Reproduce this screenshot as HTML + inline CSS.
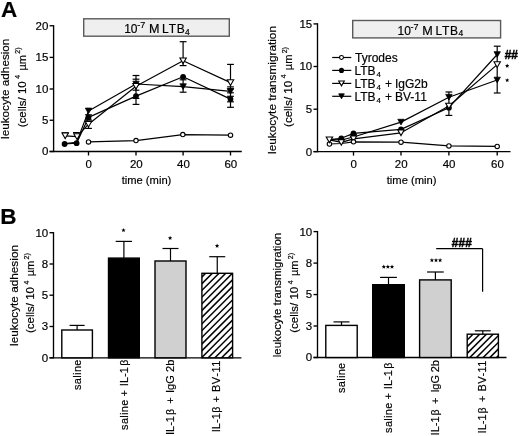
<!DOCTYPE html><html><head><meta charset="utf-8"><style>html,body{margin:0;padding:0;background:#fff;width:520px;height:436px;overflow:hidden}svg{display:block;filter:grayscale(1)}text{font-family:"Liberation Sans",sans-serif;fill:#000;stroke:#000;stroke-width:0.18px}</style></head><body>
<svg width="520" height="436" viewBox="0 0 520 436">
<rect width="520" height="436" fill="#fff"/>
<text x="0.9" y="16.9" font-size="22.5" font-weight="bold">A</text>
<text x="0.2" y="224.4" font-size="22.5" font-weight="bold">B</text>
<line x1="53.6" y1="25.15" x2="53.6" y2="152.1" stroke="#000" stroke-width="1.35"/>
<line x1="49.6" y1="25.75" x2="53.6" y2="25.75" stroke="#000" stroke-width="1.35"/>
<text x="48.3" y="29.65" font-size="11.5" text-anchor="end">20</text>
<line x1="49.6" y1="57.4" x2="53.6" y2="57.4" stroke="#000" stroke-width="1.35"/>
<text x="48.3" y="61.3" font-size="11.5" text-anchor="end">15</text>
<line x1="49.6" y1="89" x2="53.6" y2="89" stroke="#000" stroke-width="1.35"/>
<text x="48.3" y="92.9" font-size="11.5" text-anchor="end">10</text>
<line x1="49.6" y1="120.25" x2="53.6" y2="120.25" stroke="#000" stroke-width="1.35"/>
<text x="48.3" y="124.15" font-size="11.5" text-anchor="end">5</text>
<line x1="49.6" y1="151.5" x2="53.6" y2="151.5" stroke="#000" stroke-width="1.35"/>
<text x="48.3" y="155.4" font-size="11.5" text-anchor="end">0</text>
<line x1="49.6" y1="151.5" x2="241.8" y2="151.5" stroke="#000" stroke-width="1.35"/>
<line x1="88.5" y1="151.5" x2="88.5" y2="155.5" stroke="#000" stroke-width="1.35"/>
<text x="88.8" y="167.6" font-size="11.5" text-anchor="middle">0</text>
<line x1="136" y1="151.5" x2="136" y2="155.5" stroke="#000" stroke-width="1.35"/>
<text x="136.3" y="167.6" font-size="11.5" text-anchor="middle">20</text>
<line x1="183.1" y1="151.5" x2="183.1" y2="155.5" stroke="#000" stroke-width="1.35"/>
<text x="183.4" y="167.6" font-size="11.5" text-anchor="middle">40</text>
<line x1="230.5" y1="151.5" x2="230.5" y2="155.5" stroke="#000" stroke-width="1.35"/>
<text x="230.8" y="167.6" font-size="11.5" text-anchor="middle">60</text>
<text x="146.5" y="183.6" font-size="11.2" text-anchor="middle">time (min)</text>
<g transform="translate(9,138.9) rotate(-90)"><text x="0" y="0" font-size="11" textLength="100.3" lengthAdjust="spacingAndGlyphs">leukocyte adhesion</text></g>
<g transform="translate(25.8,127.3) rotate(-90)"><text x="0" y="0" font-size="11" textLength="46" lengthAdjust="spacingAndGlyphs">(cells/ 10</text><text x="48.6" y="-5.7" font-size="7">4</text><text x="56.7" y="0" font-size="11">&#181;m</text><text x="73.6" y="-5.5" font-size="7">2)</text></g>
<rect x="83.7" y="18.8" width="145.6" height="17.4" fill="#efefef" stroke="#5a5a5a" stroke-width="1.4"/>
<text x="124.2" y="32.8" font-size="12">10</text>
<text x="137.3" y="28" font-size="9">-7</text>
<text x="149" y="32.8" font-size="12.6">M</text>
<text x="162.1" y="32.8" font-size="12" textLength="22.7" lengthAdjust="spacing">LTB</text>
<text x="185.1" y="34.7" font-size="8.5">4</text>
<line x1="61.9" y1="132.8" x2="68.7" y2="132.8" stroke="#000" stroke-width="1.2"/>
<line x1="73" y1="132.6" x2="79.8" y2="132.6" stroke="#000" stroke-width="1.2"/>
<line x1="88.5" y1="114.8" x2="88.5" y2="120" stroke="#000" stroke-width="1.2"/>
<line x1="85.1" y1="114.8" x2="91.9" y2="114.8" stroke="#000" stroke-width="1.2"/>
<line x1="85.1" y1="120" x2="91.9" y2="120" stroke="#000" stroke-width="1.2"/>
<line x1="88.5" y1="121.5" x2="88.5" y2="128.4" stroke="#000" stroke-width="1.2"/>
<line x1="85.1" y1="121.5" x2="91.9" y2="121.5" stroke="#000" stroke-width="1.2"/>
<line x1="85.1" y1="128.4" x2="91.9" y2="128.4" stroke="#000" stroke-width="1.2"/>
<line x1="136" y1="75.5" x2="136" y2="104.4" stroke="#000" stroke-width="1.2"/>
<line x1="132.6" y1="75.5" x2="139.4" y2="75.5" stroke="#000" stroke-width="1.2"/>
<line x1="132.6" y1="79.2" x2="139.4" y2="79.2" stroke="#000" stroke-width="1.2"/>
<line x1="132.6" y1="90.2" x2="139.4" y2="90.2" stroke="#000" stroke-width="1.2"/>
<line x1="132.6" y1="98.4" x2="139.4" y2="98.4" stroke="#000" stroke-width="1.2"/>
<line x1="132.6" y1="104.4" x2="139.4" y2="104.4" stroke="#000" stroke-width="1.2"/>
<line x1="183.1" y1="41.7" x2="183.1" y2="65.6" stroke="#000" stroke-width="1.2"/>
<line x1="179.7" y1="41.7" x2="186.5" y2="41.7" stroke="#000" stroke-width="1.2"/>
<line x1="179.7" y1="65.6" x2="186.5" y2="65.6" stroke="#000" stroke-width="1.2"/>
<line x1="183.1" y1="79.8" x2="183.1" y2="92.2" stroke="#000" stroke-width="1.2"/>
<line x1="179.7" y1="79.8" x2="186.5" y2="79.8" stroke="#000" stroke-width="1.2"/>
<line x1="179.7" y1="92.2" x2="186.5" y2="92.2" stroke="#000" stroke-width="1.2"/>
<line x1="230.5" y1="64.4" x2="230.5" y2="107.3" stroke="#000" stroke-width="1.2"/>
<line x1="227.1" y1="64.4" x2="233.9" y2="64.4" stroke="#000" stroke-width="1.2"/>
<line x1="227.1" y1="86.9" x2="233.9" y2="86.9" stroke="#000" stroke-width="1.2"/>
<line x1="227.1" y1="88.9" x2="233.9" y2="88.9" stroke="#000" stroke-width="1.2"/>
<line x1="227.1" y1="92.8" x2="233.9" y2="92.8" stroke="#000" stroke-width="1.2"/>
<line x1="227.1" y1="96.3" x2="233.9" y2="96.3" stroke="#000" stroke-width="1.2"/>
<line x1="227.1" y1="101.8" x2="233.9" y2="101.8" stroke="#000" stroke-width="1.2"/>
<line x1="227.1" y1="107.3" x2="233.9" y2="107.3" stroke="#000" stroke-width="1.2"/>
<polyline points="88.5,141.9 136,140.6 182.8,134.6 230.5,135.2" fill="none" stroke="#000" stroke-width="1.2" stroke-linejoin="round"/>
<polyline points="64.6,144 76.6,143.2 88.5,117.4 136,96.1 183.1,76.8 230.5,99.1" fill="none" stroke="#000" stroke-width="1.2" stroke-linejoin="round"/>
<polyline points="65.2,135.8 77,136.6 88.5,124.2 136,86.3 183.1,60.8 230.5,82.6" fill="none" stroke="#000" stroke-width="1.2" stroke-linejoin="round"/>
<polyline points="64.6,143.6 76.6,142.4 88.5,110.9 136,84 183.1,86.6 230.5,91.4" fill="none" stroke="#000" stroke-width="1.2" stroke-linejoin="round"/>
<polygon points="85.3,108.1 91.7,108.1 88.5,113.7" fill="#000" stroke="#000" stroke-width="0.8"/>
<polygon points="132.8,81.2 139.2,81.2 136,86.8" fill="#000" stroke="#000" stroke-width="0.8"/>
<polygon points="179.9,83.8 186.3,83.8 183.1,89.4" fill="#000" stroke="#000" stroke-width="0.8"/>
<polygon points="227.3,88.6 233.7,88.6 230.5,94.2" fill="#000" stroke="#000" stroke-width="0.8"/>
<circle cx="64.6" cy="144" r="2.9" fill="#000"/>
<circle cx="76.6" cy="143.2" r="2.9" fill="#000"/>
<circle cx="88.5" cy="117.4" r="2.9" fill="#000"/>
<circle cx="136" cy="96.1" r="2.9" fill="#000"/>
<circle cx="183.1" cy="76.8" r="2.9" fill="#000"/>
<circle cx="230.5" cy="99.1" r="2.9" fill="#000"/>
<polygon points="62,133 68.4,133 65.2,138.6" fill="#fff" stroke="#000" stroke-width="1.1"/>
<polygon points="73.8,133.8 80.2,133.8 77,139.4" fill="#fff" stroke="#000" stroke-width="1.1"/>
<polygon points="85.3,121.4 91.7,121.4 88.5,127" fill="#fff" stroke="#000" stroke-width="1.1"/>
<polygon points="132.8,83.5 139.2,83.5 136,89.1" fill="#fff" stroke="#000" stroke-width="1.1"/>
<polygon points="179.9,58 186.3,58 183.1,63.6" fill="#fff" stroke="#000" stroke-width="1.1"/>
<polygon points="227.3,79.8 233.7,79.8 230.5,85.4" fill="#fff" stroke="#000" stroke-width="1.1"/>
<circle cx="88.5" cy="141.9" r="2.2" fill="#fff" stroke="#000" stroke-width="1.1"/>
<circle cx="136" cy="140.6" r="2.2" fill="#fff" stroke="#000" stroke-width="1.1"/>
<circle cx="182.8" cy="134.6" r="2.2" fill="#fff" stroke="#000" stroke-width="1.1"/>
<circle cx="230.5" cy="135.2" r="2.2" fill="#fff" stroke="#000" stroke-width="1.1"/>
<line x1="317.5" y1="23.2" x2="317.5" y2="152.2" stroke="#000" stroke-width="1.35"/>
<line x1="313.5" y1="23.9" x2="317.5" y2="23.9" stroke="#000" stroke-width="1.35"/>
<text x="312.2" y="27.8" font-size="11.5" text-anchor="end">15</text>
<line x1="313.5" y1="66.5" x2="317.5" y2="66.5" stroke="#000" stroke-width="1.35"/>
<text x="312.2" y="70.4" font-size="11.5" text-anchor="end">10</text>
<line x1="313.5" y1="109.2" x2="317.5" y2="109.2" stroke="#000" stroke-width="1.35"/>
<text x="312.2" y="113.1" font-size="11.5" text-anchor="end">5</text>
<line x1="313.5" y1="151.6" x2="317.5" y2="151.6" stroke="#000" stroke-width="1.35"/>
<text x="312.2" y="155.5" font-size="11.5" text-anchor="end">0</text>
<line x1="313.5" y1="151.6" x2="510.5" y2="151.6" stroke="#000" stroke-width="1.35"/>
<line x1="353.5" y1="151.6" x2="353.5" y2="155.6" stroke="#000" stroke-width="1.35"/>
<text x="353.7" y="167.6" font-size="11.5" text-anchor="middle">0</text>
<line x1="401" y1="151.6" x2="401" y2="155.6" stroke="#000" stroke-width="1.35"/>
<text x="401.2" y="167.6" font-size="11.5" text-anchor="middle">20</text>
<line x1="448.9" y1="151.6" x2="448.9" y2="155.6" stroke="#000" stroke-width="1.35"/>
<text x="449.1" y="167.6" font-size="11.5" text-anchor="middle">40</text>
<line x1="497.2" y1="151.6" x2="497.2" y2="155.6" stroke="#000" stroke-width="1.35"/>
<text x="497.4" y="167.6" font-size="11.5" text-anchor="middle">60</text>
<text x="411.6" y="183.6" font-size="11.2" text-anchor="middle">time (min)</text>
<g transform="translate(276.2,153.9) rotate(-90)"><text x="0" y="0" font-size="11" textLength="127.9" lengthAdjust="spacingAndGlyphs">leukocyte transmigration</text></g>
<g transform="translate(292,126.9) rotate(-90)"><text x="0" y="0" font-size="11" textLength="46" lengthAdjust="spacingAndGlyphs">(cells/ 10</text><text x="48.6" y="-5.7" font-size="7">4</text><text x="56.7" y="0" font-size="11">&#181;m</text><text x="73.6" y="-5.5" font-size="7">2)</text></g>
<rect x="352.7" y="20.5" width="147.9" height="17.4" fill="#efefef" stroke="#5a5a5a" stroke-width="1.4"/>
<text x="397.5" y="34.5" font-size="12">10</text>
<text x="410.6" y="29.7" font-size="9">-7</text>
<text x="422.3" y="34.5" font-size="12.6">M</text>
<text x="435.4" y="34.5" font-size="12" textLength="22.7" lengthAdjust="spacing">LTB</text>
<text x="458.4" y="36.4" font-size="8.5">4</text>
<line x1="448.9" y1="92" x2="448.9" y2="115.4" stroke="#000" stroke-width="1.2"/>
<line x1="445.5" y1="92" x2="452.3" y2="92" stroke="#000" stroke-width="1.2"/>
<line x1="445.5" y1="115.4" x2="452.3" y2="115.4" stroke="#000" stroke-width="1.2"/>
<line x1="497.2" y1="46.2" x2="497.2" y2="93" stroke="#000" stroke-width="1.2"/>
<line x1="493.8" y1="46.2" x2="500.6" y2="46.2" stroke="#000" stroke-width="1.2"/>
<line x1="493.8" y1="93" x2="500.6" y2="93" stroke="#000" stroke-width="1.2"/>
<polyline points="329.4,144 341.3,143.5 353.5,141.8 401,142.2 448.9,145.9 497.2,146.4" fill="none" stroke="#000" stroke-width="1.2" stroke-linejoin="round"/>
<polyline points="329.4,139.5 341.3,138.3 353.5,133.4 401,129.4 448.9,107.7 497.2,54.5" fill="none" stroke="#000" stroke-width="1.2" stroke-linejoin="round"/>
<polyline points="329.4,139.8 341.3,142.4 353.5,138.8 401,132.8 448.9,106 497.2,64.6" fill="none" stroke="#000" stroke-width="1.2" stroke-linejoin="round"/>
<polyline points="329.4,139.3 341.3,140 353.5,137 401,122.1 448.9,97.2 497.2,80" fill="none" stroke="#000" stroke-width="1.2" stroke-linejoin="round"/>
<circle cx="329.4" cy="144" r="2.2" fill="#fff" stroke="#000" stroke-width="1.1"/>
<polygon points="350.3,134.2 356.7,134.2 353.5,139.8" fill="#000" stroke="#000" stroke-width="0.8"/>
<polygon points="397.8,119.3 404.2,119.3 401,124.9" fill="#000" stroke="#000" stroke-width="0.8"/>
<polygon points="445.7,94.4 452.1,94.4 448.9,100" fill="#000" stroke="#000" stroke-width="0.8"/>
<polygon points="494,77.2 500.4,77.2 497.2,82.8" fill="#000" stroke="#000" stroke-width="0.8"/>
<circle cx="341.3" cy="138.3" r="2.9" fill="#000"/>
<circle cx="353.5" cy="133.4" r="2.9" fill="#000"/>
<circle cx="401" cy="129.4" r="2.9" fill="#000"/>
<circle cx="448.9" cy="107.7" r="2.9" fill="#000"/>
<polygon points="494,51.7 500.4,51.7 497.2,57.3" fill="#000" stroke="#000" stroke-width="0.8"/>
<polygon points="326.2,137 332.6,137 329.4,142.6" fill="#fff" stroke="#000" stroke-width="1.1"/>
<polygon points="338.1,139.6 344.5,139.6 341.3,145.2" fill="#fff" stroke="#000" stroke-width="1.1"/>
<polygon points="350.3,136 356.7,136 353.5,141.6" fill="#fff" stroke="#000" stroke-width="1.1"/>
<polygon points="397.8,130 404.2,130 401,135.6" fill="#fff" stroke="#000" stroke-width="1.1"/>
<polygon points="445.7,103.2 452.1,103.2 448.9,108.8" fill="#fff" stroke="#000" stroke-width="1.1"/>
<polygon points="494,61.8 500.4,61.8 497.2,67.4" fill="#fff" stroke="#000" stroke-width="1.1"/>
<circle cx="353.5" cy="141.8" r="2.2" fill="#fff" stroke="#000" stroke-width="1.1"/>
<circle cx="401" cy="142.2" r="2.2" fill="#fff" stroke="#000" stroke-width="1.1"/>
<circle cx="448.9" cy="145.9" r="2.2" fill="#fff" stroke="#000" stroke-width="1.1"/>
<circle cx="497.2" cy="146.4" r="2.2" fill="#fff" stroke="#000" stroke-width="1.1"/>
<line x1="332.2" y1="57.5" x2="351.3" y2="57.5" stroke="#000" stroke-width="1.2"/>
<circle cx="341.5" cy="57.5" r="1.94" fill="#fff" stroke="#000" stroke-width="1.1"/>
<text x="355" y="61.9" font-size="12">Tyrodes</text>
<line x1="332.2" y1="70.4" x2="351.3" y2="70.4" stroke="#000" stroke-width="1.2"/>
<circle cx="341.5" cy="70.4" r="2.55" fill="#000"/>
<text x="354.4" y="74.8" font-size="12">LTB</text>
<text x="376.6" y="77.3" font-size="8">4</text>
<line x1="332.2" y1="83.4" x2="351.3" y2="83.4" stroke="#000" stroke-width="1.2"/>
<polygon points="338.68,80.94 344.32,80.94 341.5,85.86" fill="#fff" stroke="#000" stroke-width="1.1"/>
<text x="354.4" y="87.8" font-size="12">LTB</text>
<text x="376.6" y="90.3" font-size="8">4</text>
<text x="385" y="87.8" font-size="12">+</text>
<text x="395" y="87.8" font-size="12">IgG2b</text>
<line x1="332.2" y1="96.3" x2="351.3" y2="96.3" stroke="#000" stroke-width="1.2"/>
<polygon points="338.68,93.84 344.32,93.84 341.5,98.76" fill="#000" stroke="#000" stroke-width="0.8"/>
<text x="354.4" y="100.7" font-size="12">LTB</text>
<text x="376.6" y="103.2" font-size="8">4</text>
<text x="385" y="100.7" font-size="12">+</text>
<text x="395" y="100.7" font-size="12">BV-11</text>
<text x="504.4" y="58.7" font-size="12" font-weight="bold" font-style="italic" style="stroke-width:0.45px">##</text>
<polygon points="507.2,63.6 507.79,65.09 509.39,65.19 508.15,66.21 508.55,67.76 507.2,66.9 505.85,67.76 506.25,66.21 505.01,65.19 506.61,65.09" fill="#000"/>
<polygon points="507.2,77.9 507.79,79.39 509.39,79.49 508.15,80.51 508.55,82.06 507.2,81.2 505.85,82.06 506.25,80.51 505.01,79.49 506.61,79.39" fill="#000"/>
<line x1="53.5" y1="232.1" x2="53.5" y2="358.4" stroke="#000" stroke-width="1.35"/>
<line x1="49.5" y1="232.7" x2="53.5" y2="232.7" stroke="#000" stroke-width="1.35"/>
<text x="48.2" y="236.6" font-size="11.5" text-anchor="end">10</text>
<line x1="49.5" y1="264" x2="53.5" y2="264" stroke="#000" stroke-width="1.35"/>
<text x="48.2" y="267.9" font-size="11.5" text-anchor="end">8</text>
<line x1="49.5" y1="295.2" x2="53.5" y2="295.2" stroke="#000" stroke-width="1.35"/>
<text x="48.2" y="299.1" font-size="11.5" text-anchor="end">5</text>
<line x1="49.5" y1="326.5" x2="53.5" y2="326.5" stroke="#000" stroke-width="1.35"/>
<text x="48.2" y="330.4" font-size="11.5" text-anchor="end">3</text>
<line x1="49.5" y1="357.8" x2="53.5" y2="357.8" stroke="#000" stroke-width="1.35"/>
<text x="48.2" y="361.7" font-size="11.5" text-anchor="end">0</text>
<line x1="49.5" y1="357.8" x2="241.4" y2="357.8" stroke="#000" stroke-width="1.35"/>
<g transform="translate(18.4,345.9) rotate(-90)"><text x="0" y="0" font-size="11" textLength="100.9" lengthAdjust="spacingAndGlyphs">leukocyte adhesion</text></g>
<g transform="translate(34.4,333) rotate(-90)"><text x="0" y="0" font-size="11" textLength="46" lengthAdjust="spacingAndGlyphs">(cells/ 10</text><text x="48.6" y="-5.7" font-size="7">4</text><text x="56.7" y="0" font-size="11">&#181;m</text><text x="73.6" y="-5.5" font-size="7">2)</text></g>
<line x1="77.1" y1="330" x2="77.1" y2="325.4" stroke="#000" stroke-width="1.2"/>
<line x1="69.6" y1="325.4" x2="84.6" y2="325.4" stroke="#000" stroke-width="1.2"/>
<rect x="61.8" y="330" width="30.6" height="27.8" fill="#fff" stroke="#000" stroke-width="1.4"/>
<line x1="123.9" y1="258.1" x2="123.9" y2="241.4" stroke="#000" stroke-width="1.2"/>
<line x1="115.7" y1="241.4" x2="132.1" y2="241.4" stroke="#000" stroke-width="1.2"/>
<rect x="108.5" y="258.1" width="30.8" height="99.7" fill="#000" stroke="#000" stroke-width="1.4"/>
<line x1="170.5" y1="261" x2="170.5" y2="248.5" stroke="#000" stroke-width="1.2"/>
<line x1="162.5" y1="248.5" x2="178.5" y2="248.5" stroke="#000" stroke-width="1.2"/>
<rect x="155" y="261" width="31" height="96.8" fill="#d0d0d0" stroke="#000" stroke-width="1.4"/>
<line x1="217.25" y1="273.3" x2="217.25" y2="256.7" stroke="#000" stroke-width="1.2"/>
<line x1="209.25" y1="256.7" x2="225.25" y2="256.7" stroke="#000" stroke-width="1.2"/>
<clipPath id="c1"><rect x="201.9" y="273.3" width="30.7" height="84.5"/></clipPath>
<rect x="201.9" y="273.3" width="30.7" height="84.5" fill="#fff"/>
<g clip-path="url(#c1)" stroke="#000" stroke-width="1.5">
<line x1="112.4" y1="359.8" x2="200.9" y2="271.3"/>
<line x1="119.1" y1="359.8" x2="207.6" y2="271.3"/>
<line x1="125.8" y1="359.8" x2="214.3" y2="271.3"/>
<line x1="132.5" y1="359.8" x2="221" y2="271.3"/>
<line x1="139.2" y1="359.8" x2="227.7" y2="271.3"/>
<line x1="145.9" y1="359.8" x2="234.4" y2="271.3"/>
<line x1="152.6" y1="359.8" x2="241.1" y2="271.3"/>
<line x1="159.3" y1="359.8" x2="247.8" y2="271.3"/>
<line x1="166" y1="359.8" x2="254.5" y2="271.3"/>
<line x1="172.7" y1="359.8" x2="261.2" y2="271.3"/>
<line x1="179.4" y1="359.8" x2="267.9" y2="271.3"/>
<line x1="186.1" y1="359.8" x2="274.6" y2="271.3"/>
<line x1="192.8" y1="359.8" x2="281.3" y2="271.3"/>
<line x1="199.5" y1="359.8" x2="288" y2="271.3"/>
<line x1="206.2" y1="359.8" x2="294.7" y2="271.3"/>
<line x1="212.9" y1="359.8" x2="301.4" y2="271.3"/>
<line x1="219.6" y1="359.8" x2="308.1" y2="271.3"/>
<line x1="226.3" y1="359.8" x2="314.8" y2="271.3"/>
<line x1="233" y1="359.8" x2="321.5" y2="271.3"/>
</g>
<rect x="201.9" y="273.3" width="30.7" height="84.5" fill="none" stroke="#000" stroke-width="1.4"/>
<polygon points="123.5,227.9 124.09,229.39 125.69,229.49 124.45,230.51 124.85,232.06 123.5,231.2 122.15,232.06 122.55,230.51 121.31,229.49 122.91,229.39" fill="#000"/>
<polygon points="170.1,235.8 170.69,237.29 172.29,237.39 171.05,238.41 171.45,239.96 170.1,239.1 168.75,239.96 169.15,238.41 167.91,237.39 169.51,237.29" fill="#000"/>
<polygon points="217.1,243.6 217.69,245.09 219.29,245.19 218.05,246.21 218.45,247.76 217.1,246.9 215.75,247.76 216.15,246.21 214.91,245.19 216.51,245.09" fill="#000"/>
<g transform="translate(81.2,390.1) rotate(-90)"><text x="0" y="0" font-size="11" textLength="30.6" lengthAdjust="spacing">saline</text></g>
<g transform="translate(127.6,429.9) rotate(-90)"><text x="0" y="0" font-size="11" textLength="30.3" lengthAdjust="spacing">saline</text></g>
<g transform="translate(127.6,393.4) rotate(-90)"><text x="0" y="0" font-size="11" text-anchor="middle" dy="-0.0">+</text></g>
<g transform="translate(127.6,386.2) rotate(-90)"><text x="0" y="0" font-size="11" textLength="19.1" lengthAdjust="spacing">IL-1</text></g>
<g transform="translate(127.6,365.8) rotate(-90)"><text x="0" y="0" font-size="10.5">&#946;</text></g>
<g transform="translate(173.8,435.1) rotate(-90)"><text x="0" y="0" font-size="11" textLength="19.1" lengthAdjust="spacing">IL-1</text></g>
<g transform="translate(173.8,415.1) rotate(-90)"><text x="0" y="0" font-size="10.5">&#946;</text></g>
<g transform="translate(173.8,400.6) rotate(-90)"><text x="0" y="0" font-size="11" text-anchor="middle" dy="-0.0">+</text></g>
<g transform="translate(173.8,393.1) rotate(-90)"><text x="0" y="0" font-size="11" textLength="33.4" lengthAdjust="spacing">IgG 2b</text></g>
<g transform="translate(220.4,432.3) rotate(-90)"><text x="0" y="0" font-size="11" textLength="19.1" lengthAdjust="spacing">IL-1</text></g>
<g transform="translate(220.4,412.8) rotate(-90)"><text x="0" y="0" font-size="10.5">&#946;</text></g>
<g transform="translate(220.4,399.2) rotate(-90)"><text x="0" y="0" font-size="11" text-anchor="middle" dy="-0.0">+</text></g>
<g transform="translate(220.4,392.1) rotate(-90)"><text x="0" y="0" font-size="11" textLength="31.5" lengthAdjust="spacing">BV-11</text></g>
<line x1="317.5" y1="231" x2="317.5" y2="358.1" stroke="#000" stroke-width="1.35"/>
<line x1="313.5" y1="231.6" x2="317.5" y2="231.6" stroke="#000" stroke-width="1.35"/>
<text x="312.2" y="235.5" font-size="11.5" text-anchor="end">10</text>
<line x1="313.5" y1="263.1" x2="317.5" y2="263.1" stroke="#000" stroke-width="1.35"/>
<text x="312.2" y="267" font-size="11.5" text-anchor="end">8</text>
<line x1="313.5" y1="294.55" x2="317.5" y2="294.55" stroke="#000" stroke-width="1.35"/>
<text x="312.2" y="298.45" font-size="11.5" text-anchor="end">5</text>
<line x1="313.5" y1="326" x2="317.5" y2="326" stroke="#000" stroke-width="1.35"/>
<text x="312.2" y="329.9" font-size="11.5" text-anchor="end">3</text>
<line x1="313.5" y1="357.5" x2="317.5" y2="357.5" stroke="#000" stroke-width="1.35"/>
<text x="312.2" y="361.4" font-size="11.5" text-anchor="end">0</text>
<line x1="313.5" y1="357.5" x2="506.5" y2="357.5" stroke="#000" stroke-width="1.35"/>
<g transform="translate(281.2,357.2) rotate(-90)"><text x="0" y="0" font-size="11" textLength="124.4" lengthAdjust="spacingAndGlyphs">leukocyte transmigration</text></g>
<g transform="translate(298.2,332.8) rotate(-90)"><text x="0" y="0" font-size="11" textLength="46" lengthAdjust="spacingAndGlyphs">(cells/ 10</text><text x="48.6" y="-5.7" font-size="7">4</text><text x="56.7" y="0" font-size="11">&#181;m</text><text x="73.6" y="-5.5" font-size="7">2)</text></g>
<line x1="341.5" y1="325.4" x2="341.5" y2="321.9" stroke="#000" stroke-width="1.2"/>
<line x1="333.5" y1="321.9" x2="349.5" y2="321.9" stroke="#000" stroke-width="1.2"/>
<rect x="325.8" y="325.4" width="31.4" height="32.1" fill="#fff" stroke="#000" stroke-width="1.4"/>
<line x1="388.5" y1="284.7" x2="388.5" y2="277.4" stroke="#000" stroke-width="1.2"/>
<line x1="380.1" y1="277.4" x2="396.9" y2="277.4" stroke="#000" stroke-width="1.2"/>
<rect x="372.7" y="284.7" width="31.6" height="72.8" fill="#000" stroke="#000" stroke-width="1.4"/>
<line x1="435.4" y1="279.9" x2="435.4" y2="272" stroke="#000" stroke-width="1.2"/>
<line x1="427.05" y1="272" x2="443.75" y2="272" stroke="#000" stroke-width="1.2"/>
<rect x="419.6" y="279.9" width="31.6" height="77.6" fill="#d0d0d0" stroke="#000" stroke-width="1.4"/>
<line x1="482.8" y1="334.2" x2="482.8" y2="330.8" stroke="#000" stroke-width="1.2"/>
<line x1="474.9" y1="330.8" x2="490.7" y2="330.8" stroke="#000" stroke-width="1.2"/>
<clipPath id="c2"><rect x="467.2" y="334.2" width="31.2" height="23.3"/></clipPath>
<rect x="467.2" y="334.2" width="31.2" height="23.3" fill="#fff"/>
<g clip-path="url(#c2)" stroke="#000" stroke-width="1.5">
<line x1="441" y1="359.5" x2="468.3" y2="332.2"/>
<line x1="447.7" y1="359.5" x2="475" y2="332.2"/>
<line x1="454.4" y1="359.5" x2="481.7" y2="332.2"/>
<line x1="461.1" y1="359.5" x2="488.4" y2="332.2"/>
<line x1="467.8" y1="359.5" x2="495.1" y2="332.2"/>
<line x1="474.5" y1="359.5" x2="501.8" y2="332.2"/>
<line x1="481.2" y1="359.5" x2="508.5" y2="332.2"/>
<line x1="487.9" y1="359.5" x2="515.2" y2="332.2"/>
<line x1="494.6" y1="359.5" x2="521.9" y2="332.2"/>
<line x1="501.3" y1="359.5" x2="528.6" y2="332.2"/>
</g>
<rect x="467.2" y="334.2" width="31.2" height="23.3" fill="none" stroke="#000" stroke-width="1.4"/>
<polygon points="383.8,264.5 384.39,265.99 385.99,266.09 384.75,267.11 385.15,268.66 383.8,267.8 382.45,268.66 382.85,267.11 381.61,266.09 383.21,265.99" fill="#000"/>
<polygon points="387.9,264.5 388.49,265.99 390.09,266.09 388.85,267.11 389.25,268.66 387.9,267.8 386.55,268.66 386.95,267.11 385.71,266.09 387.31,265.99" fill="#000"/>
<polygon points="392,264.5 392.59,265.99 394.19,266.09 392.95,267.11 393.35,268.66 392,267.8 390.65,268.66 391.05,267.11 389.81,266.09 391.41,265.99" fill="#000"/>
<polygon points="431.9,258 432.49,259.49 434.09,259.59 432.85,260.61 433.25,262.16 431.9,261.3 430.55,262.16 430.95,260.61 429.71,259.59 431.31,259.49" fill="#000"/>
<polygon points="436,258 436.59,259.49 438.19,259.59 436.95,260.61 437.35,262.16 436,261.3 434.65,262.16 435.05,260.61 433.81,259.59 435.41,259.49" fill="#000"/>
<polygon points="440.1,258 440.69,259.49 442.29,259.59 441.05,260.61 441.45,262.16 440.1,261.3 438.75,262.16 439.15,260.61 437.91,259.59 439.51,259.49" fill="#000"/>
<line x1="436.2" y1="248.7" x2="482.6" y2="248.7" stroke="#000" stroke-width="1.2"/>
<line x1="482.6" y1="248.7" x2="482.6" y2="291.8" stroke="#000" stroke-width="1.2"/>
<text x="451.6" y="246.6" font-size="12" font-weight="bold" font-style="italic" style="stroke-width:0.45px">###</text>
<g transform="translate(345.2,392.9) rotate(-90)"><text x="0" y="0" font-size="11" textLength="30.1" lengthAdjust="spacing">saline</text></g>
<g transform="translate(392,432.9) rotate(-90)"><text x="0" y="0" font-size="11" textLength="30.3" lengthAdjust="spacing">saline</text></g>
<g transform="translate(392,396.4) rotate(-90)"><text x="0" y="0" font-size="11" text-anchor="middle" dy="-0.0">+</text></g>
<g transform="translate(392,389.2) rotate(-90)"><text x="0" y="0" font-size="11" textLength="19.1" lengthAdjust="spacing">IL-1</text></g>
<g transform="translate(392,368.8) rotate(-90)"><text x="0" y="0" font-size="10.5">&#946;</text></g>
<g transform="translate(439.3,435.4) rotate(-90)"><text x="0" y="0" font-size="11" textLength="19.1" lengthAdjust="spacing">IL-1</text></g>
<g transform="translate(439.3,415.4) rotate(-90)"><text x="0" y="0" font-size="10.5">&#946;</text></g>
<g transform="translate(439.3,400.9) rotate(-90)"><text x="0" y="0" font-size="11" text-anchor="middle" dy="-0.0">+</text></g>
<g transform="translate(439.3,392.6) rotate(-90)"><text x="0" y="0" font-size="11" textLength="32.6" lengthAdjust="spacing">IgG 2b</text></g>
<g transform="translate(486.3,433.4) rotate(-90)"><text x="0" y="0" font-size="11" textLength="19.1" lengthAdjust="spacing">IL-1</text></g>
<g transform="translate(486.3,413.4) rotate(-90)"><text x="0" y="0" font-size="10.5">&#946;</text></g>
<g transform="translate(486.3,398.8) rotate(-90)"><text x="0" y="0" font-size="11" text-anchor="middle" dy="-0.0">+</text></g>
<g transform="translate(486.3,391.5) rotate(-90)"><text x="0" y="0" font-size="11" textLength="31" lengthAdjust="spacing">BV-11</text></g>
</svg></body></html>
